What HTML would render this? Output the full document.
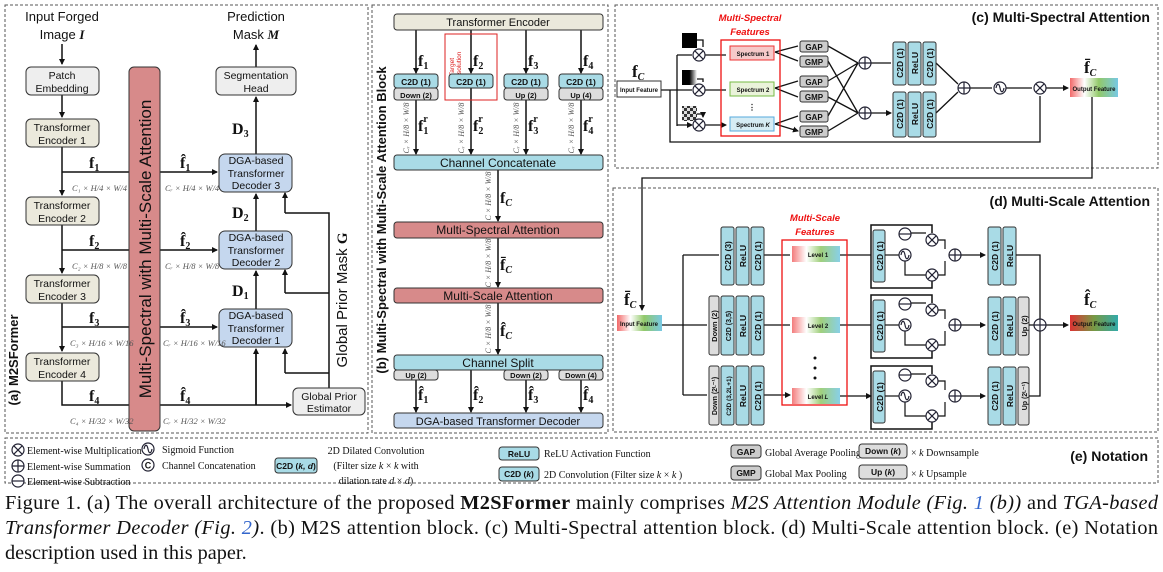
<!DOCTYPE html>
<html><head><meta charset="utf-8"><style>
html,body{margin:0;padding:0;background:#fff;}
svg{display:block;}
text{font-family:"Liberation Sans",sans-serif;}
text.s,.s text{font-family:"Liberation Serif",serif;}
.b{font-weight:bold;}
</style></head><body>
<svg width="1163" height="572" viewBox="0 0 1163 572" xmlns="http://www.w3.org/2000/svg">
<defs>
<marker id="ar" markerWidth="6" markerHeight="6" refX="5" refY="3" orient="auto" markerUnits="userSpaceOnUse"><path d="M0,0L6,3L0,6z" fill="#111"/></marker>
<g id="mul"><circle r="6" fill="#fff" stroke="#223" stroke-width="1.2"/><path d="M-4.2,-4.2L4.2,4.2M-4.2,4.2L4.2,-4.2" stroke="#223" stroke-width="1.2"/></g>
<g id="add"><circle r="6" fill="#fff" stroke="#223" stroke-width="1.2"/><path d="M-6,0H6M0,-6V6" stroke="#223" stroke-width="1.2"/></g>
<g id="sub"><circle r="6" fill="#fff" stroke="#223" stroke-width="1.2"/><path d="M-6,0H6" stroke="#223" stroke-width="1.2"/></g>
<g id="sig"><circle r="6" fill="#fff" stroke="#223" stroke-width="1.2"/><path d="M-4,0C-3,-5 -1,-5 0,0S3,5 4,0" fill="none" stroke="#223" stroke-width="1.2"/></g>
<linearGradient id="gf" x1="0" x2="1"><stop offset="0" stop-color="#e44"/><stop offset="0.3" stop-color="#fff"/><stop offset="0.6" stop-color="#7b4"/><stop offset="1" stop-color="#5bd"/></linearGradient>
<linearGradient id="go" x1="0" x2="1"><stop offset="0" stop-color="#d33"/><stop offset="0.5" stop-color="#794"/><stop offset="1" stop-color="#3aa"/></linearGradient>
<linearGradient id="gg" x1="0" x2="1"><stop offset="0" stop-color="#000"/><stop offset="0.5" stop-color="#000"/><stop offset="1" stop-color="#fff"/></linearGradient>
<pattern id="chk" width="6" height="6" patternUnits="userSpaceOnUse"><rect width="6" height="6" fill="#ddd"/><rect width="3" height="3" fill="#333"/><rect x="3" y="3" width="3" height="3" fill="#333"/></pattern>
</defs>

<g fill="none" stroke="#555" stroke-width="1" stroke-dasharray="3,2">
<rect x="5" y="5" width="363" height="428"/>
<rect x="372" y="5" width="236" height="428"/>
<rect x="615" y="5" width="543" height="163"/>
<rect x="613" y="188" width="545" height="244"/>
<rect x="5" y="438" width="1153" height="45"/>
</g>

<!-- ========== (a) ========== -->
<g font-size="13" text-anchor="middle" fill="#111">
<text x="62" y="21">Input Forged</text>
<text x="62" y="39">Image <tspan font-family="Liberation Serif" font-weight="bold" font-style="italic">I</tspan></text>
<text x="256" y="21">Prediction</text>
<text x="256" y="39">Mask <tspan font-family="Liberation Serif" font-weight="bold" font-style="italic">M</tspan></text>
</g>
<g stroke="#111" stroke-width="1.5" fill="none">
<path d="M62,172H129M62,250H129M62,327H129M62,381V405H129"/>
<path d="M329,388V213H285M329,293H285M329,373H285"/>
<path d="M256,405V350"/>
</g>
<g stroke="#111" stroke-width="1.5" fill="none" marker-end="url(#ar)">
<path d="M62,44V64"/><path d="M62,95V117"/>
<path d="M62,147V195"/><path d="M62,225V273"/><path d="M62,303V351"/>
<path d="M256,67V45"/>
<path d="M256,154V97"/><path d="M256,231V194"/><path d="M256,309V271"/>
<path d="M160,172H217"/><path d="M160,250H217"/><path d="M160,327H217"/>
<path d="M160,405H291"/>
<path d="M256,405V349"/>
<path d="M285,213V193"/>
<path d="M285,293V270"/>
<path d="M285,373V349"/>
</g>
<g stroke="#333" stroke-width="1">
<rect x="26" y="67" width="73" height="28" rx="5" fill="#eee"/>
<rect x="26" y="119" width="73" height="28" rx="5" fill="#ebe9dc"/>
<rect x="26" y="197" width="73" height="28" rx="5" fill="#ebe9dc"/>
<rect x="26" y="275" width="73" height="28" rx="5" fill="#ebe9dc"/>
<rect x="26" y="353" width="73" height="28" rx="5" fill="#ebe9dc"/>
<rect x="216" y="67" width="80" height="28" rx="5" fill="#eee"/>
<rect x="219" y="154" width="73" height="38" rx="6" fill="#c5d7ee"/>
<rect x="219" y="231" width="73" height="38" rx="6" fill="#c5d7ee"/>
<rect x="219" y="309" width="73" height="38" rx="6" fill="#c5d7ee"/>
<rect x="293" y="388" width="72" height="27" rx="5" fill="#eee"/>
<rect x="129" y="67" width="31" height="364" rx="5" fill="#d78a8a"/>
</g>
<g font-size="10.5" text-anchor="middle" fill="#111">
<text x="62" y="79">Patch</text><text x="62" y="92">Embedding</text>
<text x="62" y="131">Transformer</text><text x="62" y="144">Encoder 1</text>
<text x="62" y="209">Transformer</text><text x="62" y="222">Encoder 2</text>
<text x="62" y="287">Transformer</text><text x="62" y="300">Encoder 3</text>
<text x="62" y="365">Transformer</text><text x="62" y="378">Encoder 4</text>
<text x="256" y="79">Segmentation</text><text x="256" y="92">Head</text>
<text x="256" y="164">DGA-based</text><text x="256" y="177">Transformer</text><text x="256" y="189">Decoder 3</text>
<text x="256" y="241">DGA-based</text><text x="256" y="254">Transformer</text><text x="256" y="266">Decoder 2</text>
<text x="256" y="319">DGA-based</text><text x="256" y="332">Transformer</text><text x="256" y="344">Decoder 1</text>
<text x="329" y="400">Global Prior</text><text x="329" y="412">Estimator</text>
</g>
<text transform="translate(151,249) rotate(-90)" font-size="17" text-anchor="middle" fill="#111">Multi-Spectral with Multi-Scale Attention</text>
<text transform="translate(347,300) rotate(-90)" font-size="15" text-anchor="middle" fill="#111">Global Prior Mask <tspan font-family="Liberation Serif" font-weight="bold">G</tspan></text>
<text transform="translate(18,360) rotate(-90)" font-size="13" class="b" text-anchor="middle" fill="#111">(a) M2SFormer</text>
<g class="s b" font-size="16" fill="#111">
<text x="89" y="168">f<tspan font-size="10" dy="3">1</tspan></text>
<text x="89" y="246">f<tspan font-size="10" dy="3">2</tspan></text>
<text x="89" y="323">f<tspan font-size="10" dy="3">3</tspan></text>
<text x="89" y="401">f<tspan font-size="10" dy="3">4</tspan></text>
<text x="180" y="168">f̂<tspan font-size="10" dy="3">1</tspan></text>
<text x="180" y="246">f̂<tspan font-size="10" dy="3">2</tspan></text>
<text x="180" y="323">f̂<tspan font-size="10" dy="3">3</tspan></text>
<text x="180" y="401">f̂<tspan font-size="10" dy="3">4</tspan></text>
<text x="232" y="134">D<tspan font-size="10" dy="3">3</tspan></text>
<text x="232" y="218">D<tspan font-size="10" dy="3">2</tspan></text>
<text x="232" y="296">D<tspan font-size="10" dy="3">1</tspan></text>
</g>
<g class="s" font-size="8.5" font-style="italic" fill="#555">
<text x="72" y="191">C₁ × H/4 × W/4</text>
<text x="72" y="269">C₂ × H/8 × W/8</text>
<text x="70" y="346">C₃ × H/16 × W/16</text>
<text x="70" y="424">C₄ × H/32 × W/32</text>
<text x="165" y="191">Cᵣ × H/4 × W/4</text>
<text x="165" y="269">Cᵣ × H/8 × W/8</text>
<text x="163" y="346">Cᵣ × H/16 × W/16</text>
<text x="163" y="424">Cᵣ × H/32 × W/32</text>
</g>

<!-- ========== (b) ========== -->
<text transform="translate(386,220) rotate(-90)" font-size="13" class="b" text-anchor="middle" fill="#111">(b) Multi-Spectral with Multi-Scale Attention Block</text>
<g stroke="#111" stroke-width="1.5" fill="none" marker-end="url(#ar)">
<path d="M416,30V73"/><path d="M471,30V73"/><path d="M526,30V73"/><path d="M581,30V73"/>
<path d="M416,100V154"/><path d="M471,88V154"/><path d="M526,100V154"/><path d="M581,100V154"/>
<path d="M498,170V221"/><path d="M498,238V287"/><path d="M498,303V354"/>
<path d="M416,380V412"/><path d="M471,370V412"/><path d="M526,380V412"/><path d="M581,380V412"/>
</g>
<rect x="445" y="34" width="52" height="66" fill="none" stroke="#d22" stroke-width="1"/>
<text transform="translate(454,67) rotate(-90)" font-size="6.5" fill="#d22" text-anchor="middle">Target</text>
<text transform="translate(461,67) rotate(-90)" font-size="6.5" fill="#d22" text-anchor="middle">Resolution</text>
<g stroke="#333" stroke-width="1">
<rect x="394" y="14" width="209" height="16" rx="3" fill="#ebe9dc"/>
<rect x="394" y="74" width="44" height="14" rx="3" fill="#a9dbe6"/>
<rect x="449" y="74" width="44" height="14" rx="3" fill="#a9dbe6"/>
<rect x="504" y="74" width="44" height="14" rx="3" fill="#a9dbe6"/>
<rect x="559" y="74" width="44" height="14" rx="3" fill="#a9dbe6"/>
<rect x="394" y="88" width="44" height="12" rx="3" fill="#ddd"/>
<rect x="504" y="88" width="44" height="12" rx="3" fill="#ddd"/>
<rect x="559" y="88" width="44" height="12" rx="3" fill="#ddd"/>
<rect x="394" y="155" width="209" height="15" rx="3" fill="#a9dbe6"/>
<rect x="394" y="222" width="209" height="16" rx="3" fill="#d78a8a"/>
<rect x="394" y="288" width="209" height="15" rx="3" fill="#d78a8a"/>
<rect x="394" y="355" width="209" height="15" rx="3" fill="#a9dbe6"/>
<rect x="394" y="370" width="44" height="10" rx="3" fill="#ddd"/>
<rect x="504" y="370" width="44" height="10" rx="3" fill="#ddd"/>
<rect x="559" y="370" width="44" height="10" rx="3" fill="#ddd"/>
<rect x="394" y="413" width="209" height="15" rx="3" fill="#c5d7ee"/>
</g>
<g font-size="11" text-anchor="middle" fill="#111">
<text x="498" y="26">Transformer Encoder</text>
<text x="498" y="167" font-size="12">Channel Concatenate</text>
<text x="498" y="234" font-size="12">Multi-Spectral Attention</text>
<text x="498" y="300" font-size="12">Multi-Scale Attention</text>
<text x="498" y="367" font-size="12">Channel Split</text>
<text x="498" y="425">DGA-based Transformer Decoder</text>
</g>
<g font-size="8.5" class="b" text-anchor="middle" fill="#111">
<text x="416" y="85">C2D (1)</text><text x="471" y="85">C2D (1)</text><text x="526" y="85">C2D (1)</text><text x="581" y="85">C2D (1)</text>
<text x="416" y="98" font-size="7.5">Down (2)</text><text x="526" y="98" font-size="7.5">Up (2)</text><text x="581" y="98" font-size="7.5">Up (4)</text>
<text x="416" y="378" font-size="7.5">Up (2)</text><text x="526" y="378" font-size="7.5">Down (2)</text><text x="581" y="378" font-size="7.5">Down (4)</text>
</g>
<g class="s b" font-size="16" fill="#111">
<text x="418" y="66">f<tspan font-size="10" dy="3">1</tspan></text>
<text x="473" y="66">f<tspan font-size="10" dy="3">2</tspan></text>
<text x="528" y="66">f<tspan font-size="10" dy="3">3</tspan></text>
<text x="583" y="66">f<tspan font-size="10" dy="3">4</tspan></text>
<text x="418" y="131">f<tspan font-size="10" dy="3">1</tspan><tspan font-size="10" dx="-5" dy="-12">r</tspan></text>
<text x="473" y="131">f<tspan font-size="10" dy="3">2</tspan><tspan font-size="10" dx="-5" dy="-12">r</tspan></text>
<text x="528" y="131">f<tspan font-size="10" dy="3">3</tspan><tspan font-size="10" dx="-5" dy="-12">r</tspan></text>
<text x="583" y="131">f<tspan font-size="10" dy="3">4</tspan><tspan font-size="10" dx="-5" dy="-12">r</tspan></text>
<text x="500" y="203">f<tspan font-size="10" dy="3" font-style="italic">C</tspan></text>
<text x="500" y="270">f̄<tspan font-size="10" dy="3" font-style="italic">C</tspan></text>
<text x="500" y="336">f̂<tspan font-size="10" dy="3" font-style="italic">C</tspan></text>
<text x="418" y="400">f̂<tspan font-size="10" dy="3">1</tspan></text>
<text x="473" y="400">f̂<tspan font-size="10" dy="3">2</tspan></text>
<text x="528" y="400">f̂<tspan font-size="10" dy="3">3</tspan></text>
<text x="583" y="400">f̂<tspan font-size="10" dy="3">4</tspan></text>
</g>
<g class="s" font-size="8" font-style="italic" fill="#555" text-anchor="middle">
<text transform="translate(409,128) rotate(-90)">Cᵣ × H/8 × W/8</text>
<text transform="translate(464,128) rotate(-90)">Cᵣ × H/8 × W/8</text>
<text transform="translate(519,128) rotate(-90)">Cᵣ × H/8 × W/8</text>
<text transform="translate(574,128) rotate(-90)">Cᵣ × H/8 × W/8</text>
<text transform="translate(491,196) rotate(-90)">C × H/8 × W/8</text>
<text transform="translate(491,263) rotate(-90)">C × H/8 × W/8</text>
<text transform="translate(491,329) rotate(-90)">C × H/8 × W/8</text>
</g>

<!-- ========== (c) ========== -->
<text x="1150" y="22" font-size="14" class="b" text-anchor="end" fill="#111">(c) Multi-Spectral Attention</text>
<text x="750" y="21" font-size="9.5" class="b" font-style="italic" fill="#e11" text-anchor="middle">Multi-Spectral</text>
<text x="750" y="35" font-size="9.5" class="b" font-style="italic" fill="#e11" text-anchor="middle">Features</text>
<text x="632" y="77" class="s b" font-size="17" fill="#111">f<tspan font-size="10" dy="3" font-style="italic">C</tspan></text>
<g stroke="#111" stroke-width="1.3" fill="none">
<path d="M661,90H677M677,55V126"/>
<path d="M670,90V142H1040V96"/>
<path d="M705,55H726M705,90H726M705,125H726" marker-end="url(#ar)"/>
<path d="M677,55H692M677,90H692M677,125H692" marker-end="url(#ar)"/>
<path d="M697,40H703V47M697,79H703V82M697,114H703V117" marker-end="url(#ar)"/>
<path d="M775,52L798,46M775,52L798,61M775,88L798,81M775,88L798,97M775,124L798,116M775,124L798,131" marker-end="url(#ar)"/>
<path d="M828,46L858,63M828,61L858,113M828,81L858,63M828,97L858,113M828,116L858,63M828,131L858,113"/>
<path d="M871,63H891M871,113H891" marker-end="url(#ar)"/>
<path d="M936,63L958,84M936,113L958,92"/>
<path d="M970,88H992M1006,88H1032M1046,88H1068" marker-end="url(#ar)"/>
<path d="M1092,97V178H642V310" marker-end="url(#ar)"/>
</g>
<rect x="682" y="33" width="15" height="15" fill="#000"/>
<rect x="682" y="70" width="15" height="15" fill="url(#gg)"/>
<rect x="682" y="106" width="15" height="15" fill="url(#chk)"/>
<use href="#mul" x="699" y="55"/><use href="#mul" x="699" y="90"/><use href="#mul" x="699" y="125"/>
<rect x="721" y="40" width="59" height="96" fill="none" stroke="#e11" stroke-width="1.3"/>
<g stroke="#333" stroke-width="1">
<rect x="730" y="46" width="44" height="14" fill="#f6c9c9" stroke="#e33"/>
<rect x="730" y="82" width="44" height="14" fill="#eaf3da" stroke="#7b4"/>
<rect x="730" y="117" width="44" height="14" fill="#d6ecf4" stroke="#5ad"/>
<rect x="617" y="81" width="44" height="16" fill="#fff"/>
<rect x="800" y="41" width="28" height="11" rx="2" fill="#ccc"/>
<rect x="800" y="56" width="28" height="11" rx="2" fill="#ccc"/>
<rect x="800" y="76" width="28" height="11" rx="2" fill="#ccc"/>
<rect x="800" y="91" width="28" height="11" rx="2" fill="#ccc"/>
<rect x="800" y="111" width="28" height="11" rx="2" fill="#ccc"/>
<rect x="800" y="126" width="28" height="11" rx="2" fill="#ccc"/>
<rect x="893" y="42" width="13" height="43" rx="2" fill="#a9dbe6"/>
<rect x="908" y="42" width="13" height="43" rx="2" fill="#a9dbe6"/>
<rect x="923" y="42" width="13" height="43" rx="2" fill="#a9dbe6"/>
<rect x="893" y="92" width="13" height="45" rx="2" fill="#a9dbe6"/>
<rect x="908" y="92" width="13" height="45" rx="2" fill="#a9dbe6"/>
<rect x="923" y="92" width="13" height="45" rx="2" fill="#a9dbe6"/>
</g>
<rect x="1070" y="78" width="48" height="19" fill="url(#gf)" opacity="0.8"/>
<g font-size="6" text-anchor="middle" fill="#111" class="b">
<text x="639" y="92">Input Feature</text>
<text x="753" y="56">Spectrum 1</text><text x="753" y="92">Spectrum 2</text><text x="753" y="127">Spectrum <tspan font-style="italic">K</tspan></text>
<text x="752" y="110" font-size="8">⋮</text>
<text x="1094" y="91">Output Feature</text>
</g>
<g font-size="8" class="b" text-anchor="middle" fill="#111">
<text x="814" y="50">GAP</text><text x="814" y="65">GMP</text><text x="814" y="85">GAP</text><text x="814" y="100">GMP</text><text x="814" y="120">GAP</text><text x="814" y="135">GMP</text>
</g>
<g font-size="8.5" class="b" text-anchor="middle" fill="#111">
<text transform="translate(903,63) rotate(-90)">C2D (1)</text><text transform="translate(918,63) rotate(-90)">ReLU</text><text transform="translate(933,63) rotate(-90)">C2D (1)</text>
<text transform="translate(903,114) rotate(-90)">C2D (1)</text><text transform="translate(918,114) rotate(-90)">ReLU</text><text transform="translate(933,114) rotate(-90)">C2D (1)</text>
</g>
<use href="#add" x="865" y="63"/><use href="#add" x="865" y="113"/>
<use href="#add" x="964" y="88"/><use href="#sig" x="1000" y="88"/><use href="#mul" x="1040" y="88"/>
<text x="1084" y="73" class="s b" font-size="17" fill="#111">f̄<tspan font-size="10" dy="3" font-style="italic">C</tspan></text>

<!-- ========== (d) ========== -->
<text x="1150" y="206" font-size="14" class="b" text-anchor="end" fill="#111">(d) Multi-Scale Attention</text>
<text x="815" y="221" font-size="9.5" class="b" font-style="italic" fill="#e11" text-anchor="middle">Multi-Scale</text>
<text x="815" y="235" font-size="9.5" class="b" font-style="italic" fill="#e11" text-anchor="middle">Features</text>
<text x="624" y="305" class="s b" font-size="17" fill="#111">f̄<tspan font-size="10" dy="3" font-style="italic">C</tspan></text>
<text x="1084" y="305" class="s b" font-size="17" fill="#111">f̂<tspan font-size="10" dy="3" font-style="italic">C</tspan></text>
<g stroke="#111" stroke-width="1.3" fill="none">
<path d="M662,325H683M683,255V395"/>
<path d="M683,255H719M683,325H707M683,395H707M764,255H790M764,325H790M764,395H790" marker-end="url(#ar)"/>
<path d="M840,255H871M840,325H871M840,396H871" marker-end="url(#ar)"/>
<path d="M1046,325H1068" marker-end="url(#ar)"/>
</g>
<g stroke="#333" stroke-width="1">
<rect x="721" y="227" width="13" height="58" rx="2" fill="#a9dbe6"/><rect x="736" y="227" width="13" height="58" rx="2" fill="#a9dbe6"/><rect x="751" y="227" width="13" height="58" rx="2" fill="#a9dbe6"/>
<rect x="709" y="296" width="10" height="59" rx="2" fill="#ddd"/><rect x="721" y="296" width="13" height="59" rx="2" fill="#a9dbe6"/><rect x="736" y="296" width="13" height="59" rx="2" fill="#a9dbe6"/><rect x="751" y="296" width="13" height="59" rx="2" fill="#a9dbe6"/>
<rect x="709" y="366" width="10" height="59" rx="2" fill="#ddd"/><rect x="721" y="366" width="13" height="59" rx="2" fill="#a9dbe6"/><rect x="736" y="366" width="13" height="59" rx="2" fill="#a9dbe6"/><rect x="751" y="366" width="13" height="59" rx="2" fill="#a9dbe6"/>
<rect x="988" y="227" width="13" height="58" rx="2" fill="#a9dbe6"/><rect x="1003" y="227" width="13" height="58" rx="2" fill="#a9dbe6"/>
<rect x="988" y="297" width="13" height="58" rx="2" fill="#a9dbe6"/><rect x="1003" y="297" width="13" height="58" rx="2" fill="#a9dbe6"/><rect x="1018" y="297" width="11" height="58" rx="2" fill="#ddd"/>
<rect x="988" y="367" width="13" height="58" rx="2" fill="#a9dbe6"/><rect x="1003" y="367" width="13" height="58" rx="2" fill="#a9dbe6"/><rect x="1018" y="367" width="11" height="58" rx="2" fill="#ddd"/>
</g>
<rect x="782" y="240" width="65" height="165" fill="none" stroke="#e11" stroke-width="1.3"/>
<rect x="617" y="315" width="45" height="16" fill="url(#gf)" opacity="0.8"/>
<rect x="792" y="246" width="48" height="16" fill="url(#gf)" opacity="0.7"/>
<rect x="792" y="317" width="48" height="16" fill="url(#gf)" opacity="0.7"/>
<rect x="792" y="388" width="48" height="16" fill="url(#gf)" opacity="0.7"/>
<rect x="1070" y="315" width="48" height="16" fill="url(#go)"/>
<g fill="#111"><circle cx="815" cy="358" r="1.5"/><circle cx="815" cy="368" r="1.5"/><circle cx="815" cy="378" r="1.5"/></g>
<g font-size="6" text-anchor="middle" fill="#111" class="b">
<text x="639" y="326">Input Feature</text>
<text x="818" y="257">Level 1</text><text x="818" y="328">Level 2</text><text x="818" y="399">Level <tspan font-style="italic">L</tspan></text>
<text x="1094" y="326">Output Feature</text>
</g>
<g font-size="8.5" class="b" text-anchor="middle" fill="#111">
<text transform="translate(731,256) rotate(-90)">C2D (3)</text><text transform="translate(746,256) rotate(-90)">ReLU</text><text transform="translate(761,256) rotate(-90)">C2D (1)</text>
<text transform="translate(717,326) rotate(-90)" font-size="7.5">Down (2)</text><text transform="translate(731,326) rotate(-90)" font-size="7">C2D (3,5)</text><text transform="translate(746,326) rotate(-90)">ReLU</text><text transform="translate(761,326) rotate(-90)">C2D (1)</text>
<text transform="translate(717,396) rotate(-90)" font-size="7">Down (2ᴸ⁻¹)</text><text transform="translate(731,396) rotate(-90)" font-size="6.5">C2D (3,2L+1)</text><text transform="translate(746,396) rotate(-90)">ReLU</text><text transform="translate(761,396) rotate(-90)">C2D (1)</text>
<text transform="translate(998,256) rotate(-90)">C2D (1)</text><text transform="translate(1013,256) rotate(-90)">ReLU</text>
<text transform="translate(998,326) rotate(-90)">C2D (1)</text><text transform="translate(1013,326) rotate(-90)">ReLU</text><text transform="translate(1027,326) rotate(-90)" font-size="7.5">Up (2)</text>
<text transform="translate(998,396) rotate(-90)">C2D (1)</text><text transform="translate(1013,396) rotate(-90)">ReLU</text><text transform="translate(1027,396) rotate(-90)" font-size="7">Up (2ᴸ⁻¹)</text>
</g>
<g id="att">
<path d="M871,255V225H932V233M871,255V288H932V281" fill="none" stroke="#111" stroke-width="1.5"/>
<rect x="873" y="230" width="12" height="52" rx="2" fill="#a9dbe6" stroke="#333"/>
<text transform="translate(883,256) rotate(-90)" font-size="8.5" class="b" text-anchor="middle" fill="#111">C2D (1)</text>
<g stroke="#111" stroke-width="1.2" fill="none">
<path d="M885,255H899"/>
<path d="M905,233H926M905,261V275H926"/>
<path d="M938,240H945V249M938,275H945V261"/>
<path d="M961,255H985" marker-end="url(#ar)"/>
</g>
<use href="#sub" x="905" y="234"/><use href="#sig" x="905" y="255"/>
<use href="#mul" x="932" y="240"/><use href="#mul" x="932" y="275"/><use href="#add" x="955" y="255"/>
</g>
<use href="#att" y="70"/><use href="#att" y="141"/>
<g stroke="#111" stroke-width="1.3" fill="none">
<path d="M1016,255H1040V319M1029,325H1034M1029,396H1040V331"/>
</g>
<use href="#add" x="1040" y="325"/>

<!-- ========== (e) ========== -->
<g class="s" font-size="10" fill="#111">
<use href="#mul" x="18" y="450"/><text x="27" y="454">Element-wise Multiplication</text>
<use href="#add" x="18" y="466"/><text x="27" y="470">Element-wise Summation</text>
<use href="#sub" x="18" y="481"/><text x="27" y="485">Element-wise Subtraction</text>
<use href="#sig" x="148" y="449"/><text x="162" y="453">Sigmoid Function</text>
<circle cx="148" cy="465" r="6" fill="#fff" stroke="#223" stroke-width="1.2"/>
<text x="162" y="469">Channel Concatenation</text>
<text x="376" y="454" text-anchor="middle">2D Dilated Convolution</text>
<text x="376" y="469" text-anchor="middle">(Filter size <tspan font-style="italic">k</tspan> × <tspan font-style="italic">k</tspan> with</text>
<text x="376" y="484" text-anchor="middle">dilation rate <tspan font-style="italic">d</tspan> × <tspan font-style="italic">d</tspan>)</text>
<text x="544" y="457">ReLU Activation Function</text>
<text x="544" y="478">2D Convolution (Filter size <tspan font-style="italic">k</tspan> × <tspan font-style="italic">k</tspan> )</text>
<text x="765" y="456">Global Average Pooling</text>
<text x="765" y="477">Global Max Pooling</text>
<text x="911" y="456">× <tspan font-style="italic">k</tspan> Downsample</text>
<text x="911" y="477">× <tspan font-style="italic">k</tspan> Upsample</text>
</g>
<text x="148" y="468.5" font-size="9" class="b" text-anchor="middle" fill="#111">C</text>
<g stroke="#333" stroke-width="1">
<rect x="275" y="458" width="42" height="15" rx="3" fill="#a9dbe6"/>
<rect x="499" y="447" width="40" height="13" rx="3" fill="#a9dbe6"/>
<rect x="499" y="467" width="40" height="14" rx="3" fill="#a9dbe6"/>
<rect x="731" y="445" width="30" height="13" rx="3" fill="#ccc"/>
<rect x="731" y="466" width="30" height="14" rx="3" fill="#ccc"/>
<rect x="859" y="444" width="48" height="14" rx="3" fill="#ddd"/>
<rect x="859" y="465" width="48" height="14" rx="3" fill="#ddd"/>
</g>
<g font-size="8.5" class="b" text-anchor="middle" fill="#111">
<text x="296" y="469">C2D (<tspan font-style="italic">k, d</tspan>)</text>
<text x="519" y="457">ReLU</text>
<text x="519" y="477">C2D (<tspan font-style="italic">k</tspan>)</text>
<text x="746" y="455">GAP</text><text x="746" y="476">GMP</text>
<text x="883" y="454">Down (<tspan font-style="italic">k</tspan>)</text><text x="883" y="475">Up (<tspan font-style="italic">k</tspan>)</text>
</g>
<text x="1148" y="461" font-size="14" class="b" text-anchor="end" fill="#111">(e) Notation</text>

<!-- caption -->
<g class="s" font-size="20.3" fill="#111">
<text x="5" y="509" textLength="1153" lengthAdjust="spacing">Figure 1. (a) The overall architecture of the proposed <tspan font-weight="bold">M2SFormer</tspan> mainly comprises <tspan font-style="italic">M2S Attention Module (Fig. <tspan fill="#3366cc">1</tspan> (b))</tspan> and <tspan font-style="italic">TGA-based</tspan></text>
<text x="5" y="534" textLength="1153" lengthAdjust="spacing"><tspan font-style="italic">Transformer Decoder (Fig. <tspan fill="#3366cc">2</tspan>)</tspan>. (b) M2S attention block. (c) Multi-Spectral attention block. (d) Multi-Scale attention block. (e) Notation</text>
<text x="5" y="559">description used in this paper.</text>
</g>
</svg>
</body></html>
